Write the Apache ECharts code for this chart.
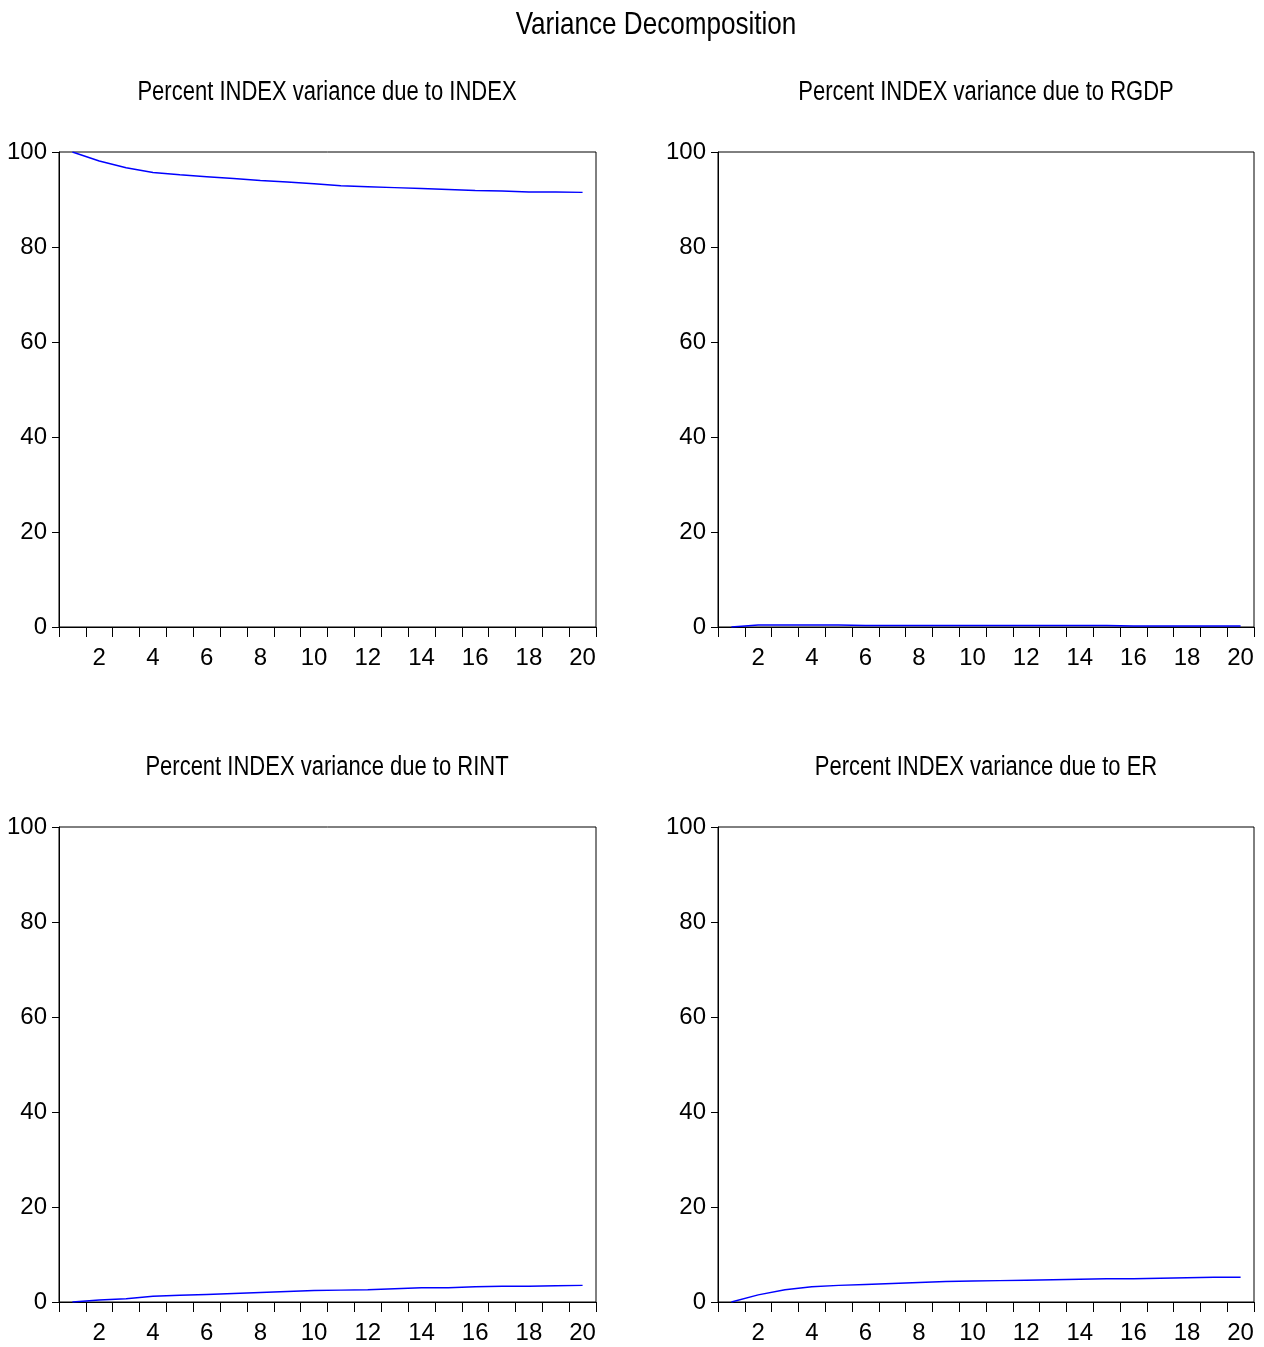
<!DOCTYPE html>
<html>
<head>
<meta charset="utf-8">
<script src="https://cdn.jsdelivr.net/npm/echarts@6/dist/echarts.min.js"></script>
<style>html,body{margin:0;padding:0;background:#fff}#c{width:1264px;height:1347px}</style>
</head>
<body>
<div id="c"></div>
<script>
const periods = [1,2,3,4,5,6,7,8,9,10,11,12,13,14,15,16,17,18,19,20];
const mainTitle = 'Variance Decomposition';
const panelTitles = [
  'Percent INDEX variance due to INDEX',
  'Percent INDEX variance due to RGDP',
  'Percent INDEX variance due to RINT',
  'Percent INDEX variance due to ER'
];
const dueIndex = [100, 98.1, 96.7, 95.7, 95.2, 94.8, 94.4, 94.0, 93.7, 93.3, 92.9, 92.7, 92.5, 92.3, 92.1, 91.9, 91.8, 91.6, 91.6, 91.5];
const dueRgdp  = [0, 0.4, 0.4, 0.4, 0.4, 0.3, 0.3, 0.3, 0.3, 0.3, 0.3, 0.3, 0.3, 0.3, 0.3, 0.2, 0.2, 0.2, 0.2, 0.2];
const dueRint  = [0, 0.4, 0.7, 1.2, 1.4, 1.6, 1.8, 2.0, 2.2, 2.4, 2.5, 2.6, 2.8, 3.0, 3.0, 3.2, 3.3, 3.3, 3.4, 3.5];
const dueEr    = [0, 1.5, 2.6, 3.2, 3.5, 3.7, 3.9, 4.1, 4.3, 4.4, 4.5, 4.6, 4.7, 4.8, 4.9, 4.9, 5.0, 5.1, 5.2, 5.2];
const yTicks = [0, 20, 40, 60, 80, 100];

const seriesData = [dueIndex, dueRgdp, dueRint, dueEr];
const FONT = '"Liberation Sans Narrow", "Arial Narrow", "Liberation Sans", Arial, sans-serif';
const grids = [
  {left: 59, top: 152, width: 537, height: 475},
  {left: 718, top: 152, width: 536, height: 475},
  {left: 59, top: 827, width: 537, height: 475},
  {left: 718, top: 827, width: 536, height: 475}
];
const titleCenters = [[327, 93], [986, 93], [327, 768], [986, 768]];

function narrowText(text, x, y, size) {
  return {
    type: 'text', x: x, y: y, scaleX: 0.815, scaleY: 1, silent: true,
    style: {
      text: text, x: 0, y: 0, fill: '#000',
      fontSize: size, fontFamily: FONT, fontWeight: 'normal',
      textAlign: 'center', textVerticalAlign: 'middle', verticalAlign: 'middle'
    }
  };
}

const chart = echarts.init(document.getElementById('c'), null, {renderer: 'canvas'});
const option = {
  backgroundColor: '#fff',
  animation: false,
  graphic: [narrowText(mainTitle, 656, 25, 32)]
    .concat(panelTitles.map((t, i) => narrowText(t, titleCenters[i][0], titleCenters[i][1], 27))),
  grid: grids.map(g => Object.assign({show: true, borderColor: '#000', borderWidth: 1, backgroundColor: '#fff'}, g)),
  xAxis: grids.map((g, i) => ({
    type: 'category', gridIndex: i, data: periods, boundaryGap: true,
    axisLine: {lineStyle: {color: '#000', width: 1}},
    axisTick: {show: true, interval: 0, length: 10, lineStyle: {color: '#000'}},
    axisLabel: {interval: 0, margin: 19, fontFamily: FONT, fontSize: 24, color: '#000',
      formatter: v => (Number(v) % 2 === 0 ? String(v) : '')},
    splitLine: {show: false}
  })),
  yAxis: grids.map((g, i) => ({
    type: 'value', gridIndex: i, min: 0, max: 100, interval: 20,
    axisLine: {show: true, lineStyle: {color: '#000', width: 1}},
    axisTick: {show: true, length: 7, lineStyle: {color: '#000'}},
    axisLabel: {margin: 12, fontFamily: FONT, fontSize: 24, color: '#000',
      formatter: v => (yTicks.indexOf(v) >= 0 ? String(v) : '')},
    splitLine: {show: false}
  })),
  series: seriesData.map((d, i) => ({
    type: 'line', xAxisIndex: i, yAxisIndex: i, data: d,
    showSymbol: false, symbol: 'none', smooth: false,
    lineStyle: {color: '#0000ff', width: 1.5}
  }))
};
chart.setOption(option);
</script>
</body>
</html>
